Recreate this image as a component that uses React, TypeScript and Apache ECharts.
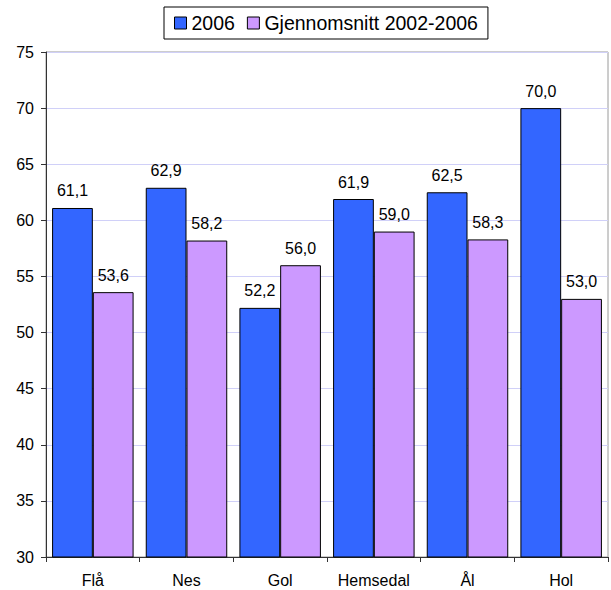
import React, { useEffect, useRef } from "react";
import * as echarts from "echarts";

const categories = ["Flå", "Nes", "Gol", "Hemsedal", "Ål", "Hol"];
const series2006 = [61.1, 62.9, 52.2, 61.9, 62.5, 70.0];
const seriesAvg = [53.6, 58.2, 56.0, 59.0, 58.3, 53.0];
const seriesNames = ["2006", "Gjennomsnitt 2002-2006"];

const FONT = "'Liberation Sans', Arial, sans-serif";

export default function App() {
  const ref = useRef<HTMLDivElement>(null);
  useEffect(() => {
    if (!ref.current) return;
    const chart = echarts.init(ref.current, null, { renderer: "svg" });
    const fmt = (p: any) => Number(p.value).toFixed(1).replace(".", ",");
    const labelStyle = {
      show: true,
      position: "top",
      distance: 9,
      color: "#000",
      fontSize: 16,
      fontFamily: FONT,
      formatter: fmt,
    };
    chart.setOption({
      animation: false,
      backgroundColor: "#ffffff",
      textStyle: { fontFamily: FONT },
      legend: {
        data: seriesNames,
        top: 7,
        left: 164,
        itemWidth: 12,
        itemHeight: 12,
        itemGap: 12,
        padding: [6, 10, 6, 10],
        borderColor: "#000",
        borderWidth: 1,
        icon: "rect",
        itemStyle: { borderColor: "#000", borderWidth: 1 },
        textStyle: { fontFamily: FONT, fontSize: 19.5, color: "#000" },
      },
      grid: {
        left: 46,
        right: 3,
        top: 52,
        bottom: 33,
        show: true,
        borderColor: "#9a9a9a",
        borderWidth: 1,
      },
      xAxis: {
        type: "category",
        data: categories,
        axisLine: { lineStyle: { color: "#333", width: 1 } },
        axisTick: { show: true, length: 5, lineStyle: { color: "#333" } },
        axisLabel: { color: "#000", fontSize: 16, fontFamily: FONT, margin: 15 },
      },
      yAxis: {
        type: "value",
        min: 30,
        max: 75,
        interval: 5,
        axisLine: { show: true, lineStyle: { color: "#333", width: 1 } },
        axisTick: { show: true, length: 5, lineStyle: { color: "#333" } },
        axisLabel: { color: "#000", fontSize: 16, fontFamily: FONT, margin: 12 },
        splitLine: { lineStyle: { color: "#d0d0f8", width: 1 } },
      },
      series: [
        {
          name: seriesNames[0],
          type: "bar",
          data: series2006,
          barGap: "0%",
          barCategoryGap: "13%",
          itemStyle: { color: "#3366FF", borderColor: "#000", borderWidth: 1 },
          label: labelStyle,
        },
        {
          name: seriesNames[1],
          type: "bar",
          data: seriesAvg,
          barGap: "0%",
          barCategoryGap: "13%",
          itemStyle: { color: "#CC99FF", borderColor: "#000", borderWidth: 1 },
          label: labelStyle,
        },
      ],
    });
    return () => chart.dispose();
  }, []);
  return <div ref={ref} style={{ width: 611, height: 590, position: "absolute", left: 0, top: 0 }} />;
}
